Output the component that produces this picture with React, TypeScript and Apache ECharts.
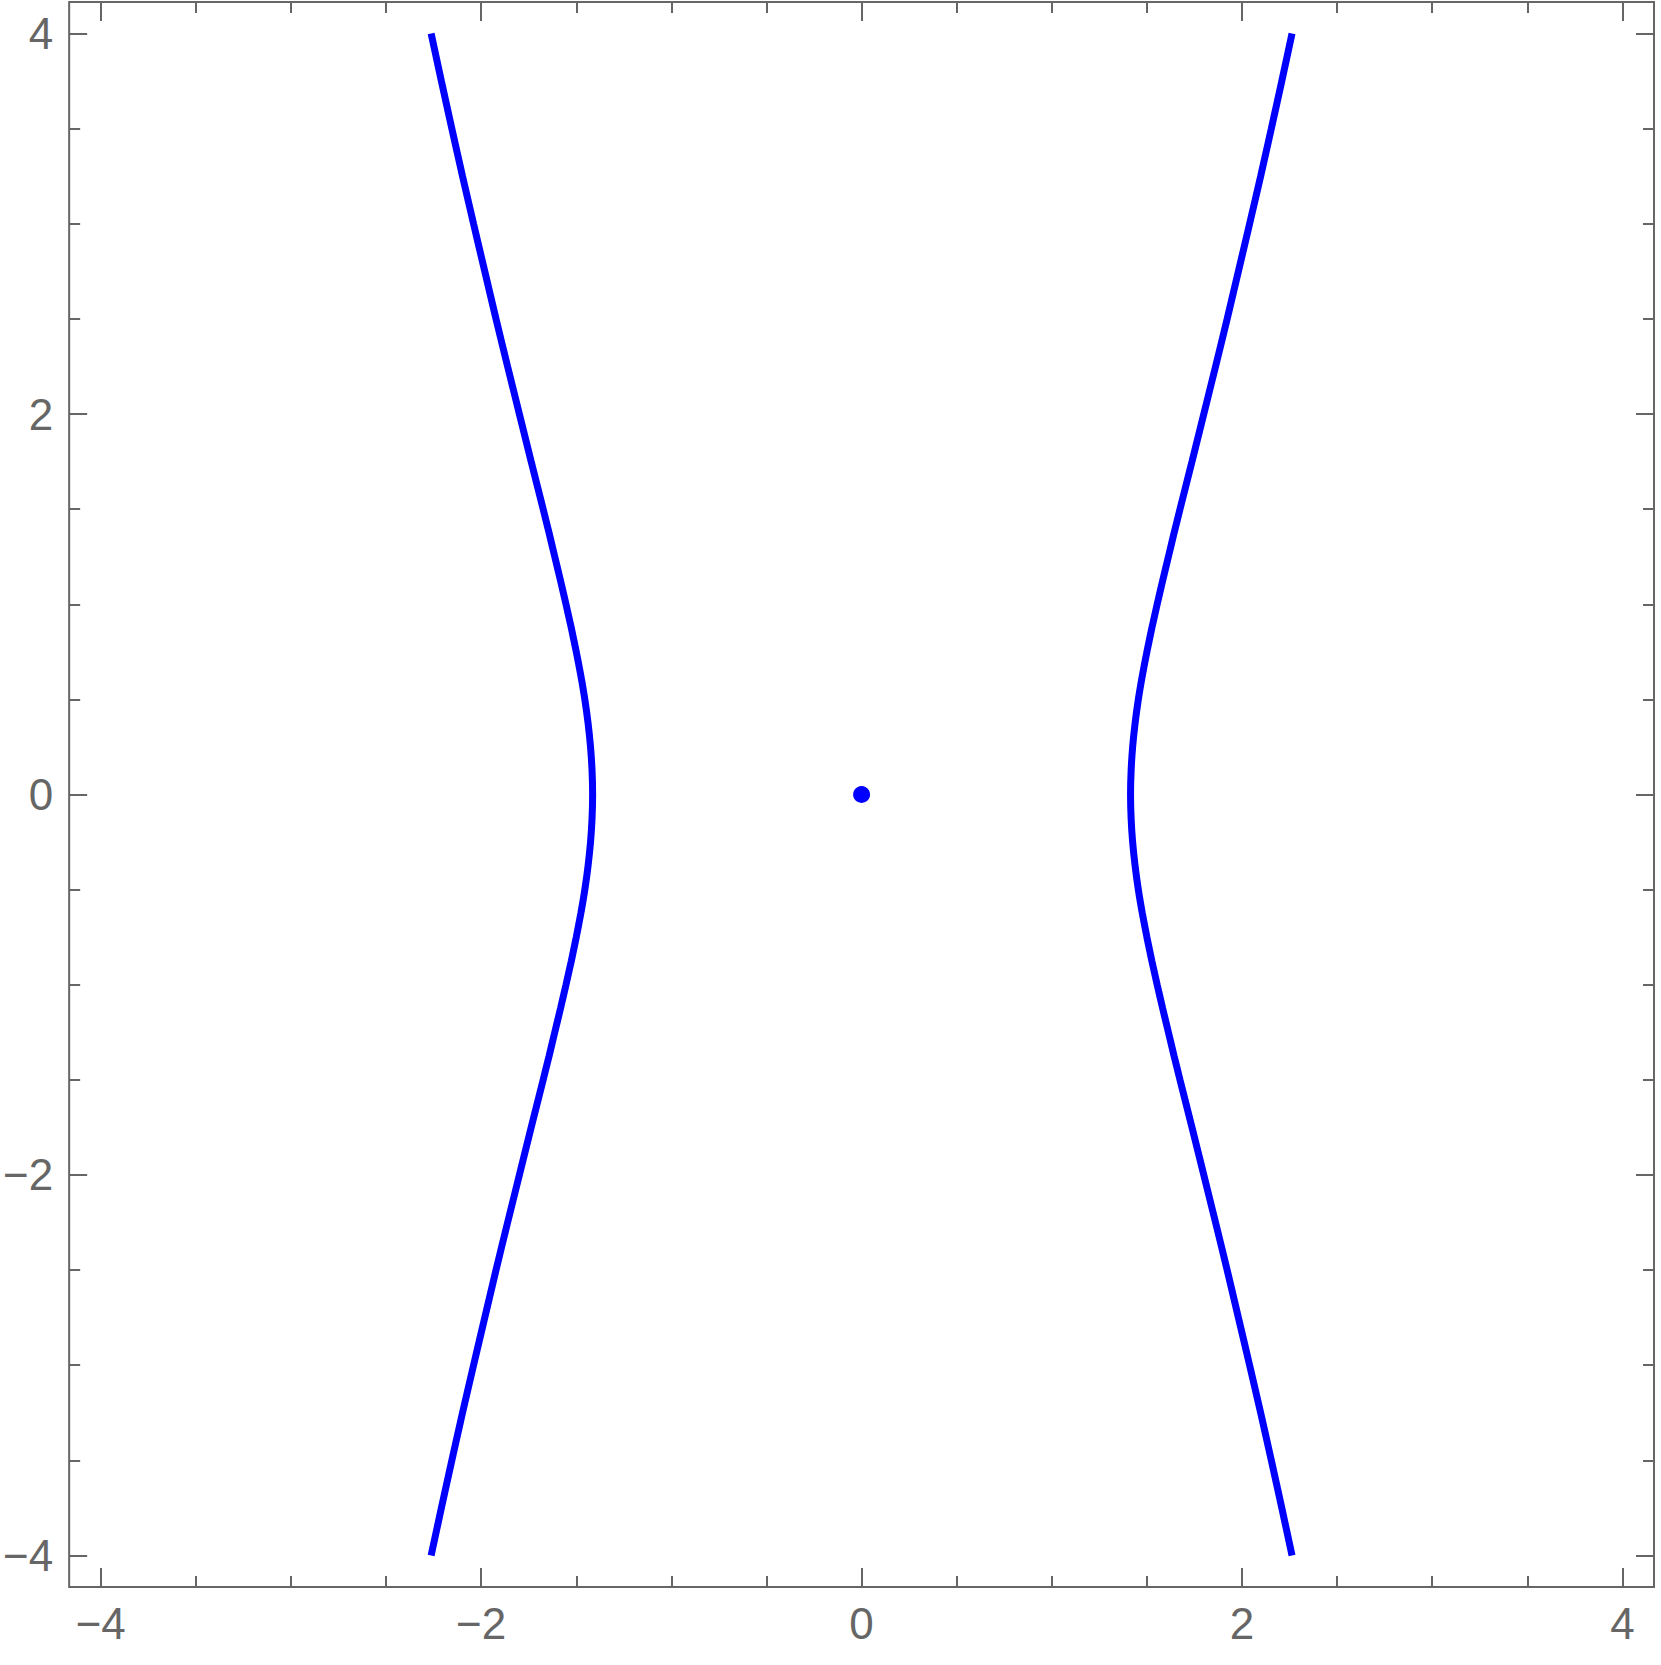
import React, { useEffect, useRef } from "react";
import * as echarts from "echarts";

// y levels along each branch of the curve
const yLevels = [
  -4, -3.75, -3.5, -3.25, -3, -2.75, -2.5, -2.25, -2, -1.75, -1.5, -1.375, -1.25, -1.125,
  -1, -0.875, -0.75, -0.625, -0.5, -0.375, -0.25, -0.125, 0, 0.125, 0.25, 0.375, 0.5,
  0.625, 0.75, 0.875, 1, 1.125, 1.25, 1.375, 1.5, 1.75, 2, 2.25, 2.5, 2.75, 3, 3.25,
  3.5, 3.75, 4,
];
// x positions of the right branch at each y level
const rightBranchX = [
  2.263, 2.209, 2.154, 2.098, 2.04, 1.981, 1.922, 1.861, 1.799, 1.737, 1.674, 1.643, 1.613,
  1.583, 1.554, 1.526, 1.5, 1.476, 1.455, 1.438, 1.425, 1.417, 1.414, 1.417, 1.425, 1.438,
  1.455, 1.476, 1.5, 1.526, 1.554, 1.583, 1.613, 1.643, 1.674, 1.737, 1.799, 1.861, 1.922,
  1.981, 2.04, 2.098, 2.154, 2.209, 2.263,
];
// x positions of the left branch at each y level
const leftBranchX = [
  -2.263, -2.209, -2.154, -2.098, -2.04, -1.981, -1.922, -1.861, -1.799, -1.737, -1.674,
  -1.643, -1.613, -1.583, -1.554, -1.526, -1.5, -1.476, -1.455, -1.438, -1.425, -1.417,
  -1.414, -1.417, -1.425, -1.438, -1.455, -1.476, -1.5, -1.526, -1.554, -1.583, -1.613,
  -1.643, -1.674, -1.737, -1.799, -1.861, -1.922, -1.981, -2.04, -2.098, -2.154, -2.209,
  -2.263,
];
// isolated point
const isolatedPoint = [[0, 0]];

const majorTicks = [-4, -2, 0, 2, 4];
const minorTicks = [
  -4, -3.5, -3, -2.5, -2, -1.5, -1, -0.5, 0, 0.5, 1, 1.5, 2, 2.5, 3, 3.5, 4,
];
const axisMin = -4.166;
const axisMax = 4.166;

const GRAY = "#666666";
const fmt = (v: number) => (v < 0 ? "\u2212" + Math.abs(v) : String(v));

function makeAxis(position: string, major: boolean, showLabel: boolean, isX: boolean) {
  return {
    type: "value",
    min: axisMin,
    max: axisMax,
    position,
    axisLine: { show: false, onZero: false },
    splitLine: { show: false },
    axisTick: {
      show: true,
      inside: true,
      length: major ? (isX ? 19 : 18) : 11,
      customValues: major ? majorTicks : minorTicks,
      lineStyle: { color: GRAY, width: 2 },
    },
    axisLabel: {
      show: showLabel,
      customValues: majorTicks,
      formatter: (v: number) => fmt(v),
      fontSize: 44,
      color: GRAY,
      fontFamily: "Liberation Sans",
      margin: isX ? 14 : 16,
      padding: isX ? 0 : [0, 0, 6, 0],
    },
  };
}

export default function App() {
  const ref = useRef<HTMLDivElement>(null);
  useEffect(() => {
    if (!ref.current) return;
    const chart = echarts.init(ref.current, undefined, { renderer: "svg" });
    const rightData = yLevels.map((y, i) => [rightBranchX[i], y]);
    const leftData = yLevels.map((y, i) => [leftBranchX[i], y]);
    chart.setOption({
      animation: false,
      backgroundColor: "#ffffff",
      grid: {
        left: 69,
        right: 7,
        top: 2,
        bottom: 78,
        show: true,
        borderColor: GRAY,
        borderWidth: 2,
        backgroundColor: "transparent",
      },
      xAxis: [
        makeAxis("bottom", true, true, true),
        makeAxis("bottom", false, false, true),
        makeAxis("top", true, false, true),
        makeAxis("top", false, false, true),
      ],
      yAxis: [
        makeAxis("left", true, true, false),
        makeAxis("left", false, false, false),
        makeAxis("right", true, false, false),
        makeAxis("right", false, false, false),
      ],
      series: [
        {
          type: "line",
          data: leftData,
          xAxisIndex: 0,
          yAxisIndex: 0,
          showSymbol: false,
          symbol: "none",
          smooth: 0.2,
          lineStyle: { color: "#0000ff", width: 7 },
        },
        {
          type: "line",
          data: rightData,
          xAxisIndex: 0,
          yAxisIndex: 0,
          showSymbol: false,
          symbol: "none",
          smooth: 0.2,
          lineStyle: { color: "#0000ff", width: 7 },
        },
        {
          type: "scatter",
          data: isolatedPoint,
          xAxisIndex: 0,
          yAxisIndex: 0,
          symbol: "circle",
          symbolSize: 17,
          itemStyle: { color: "#0000ff", opacity: 1 },
        },
      ],
    });
    return () => chart.dispose();
  }, []);
  return (
    <div
      ref={ref}
      style={{ position: "fixed", left: 0, top: 0, width: 1661, height: 1665, background: "#fff" }}
    />
  );
}
